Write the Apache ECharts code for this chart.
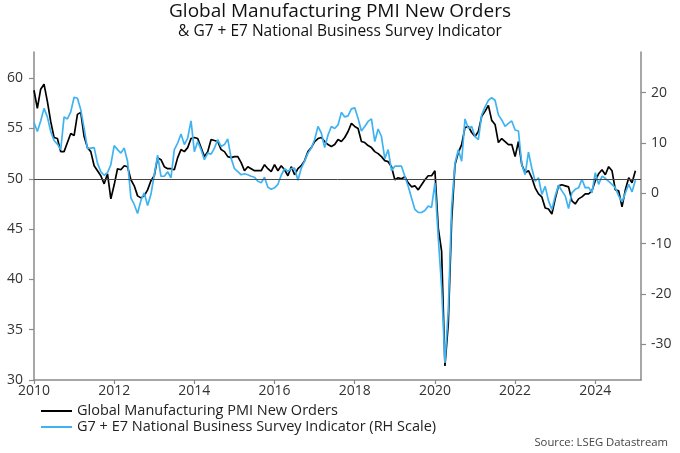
<!DOCTYPE html>
<html><head><meta charset="utf-8">
<script src="https://cdn.jsdelivr.net/npm/echarts@6/dist/echarts.min.js"></script>
<style>html,body{margin:0;padding:0;background:#fff}#c{width:680px;height:453px}</style>
</head><body><div id="c"></div>
<script>
const startYear = 2010;
const titleText = 'Global Manufacturing PMI New Orders';
const subtitleText = '& G7 + E7 National Business Survey Indicator';
const sourceText = 'Source: LSEG Datastream';
const seriesNames = ['Global Manufacturing PMI New Orders', 'G7 + E7 National Business Survey Indicator (RH Scale)'];
// Monthly, Jan 2010 - Jan 2025
const pmiNewOrders = [
58.8,57.0,58.9,59.4,57.7,55.7,54.1,54.0,52.7,52.7,53.6,54.5,
54.3,56.4,56.6,54.2,53.1,52.7,51.3,50.8,50.3,49.5,50.5,48.0,
49.4,51.0,50.9,51.3,51.2,49.9,49.3,48.3,48.1,48.3,48.9,49.8,
50.3,52.1,51.9,51.2,51.0,51.0,50.9,52.1,52.9,52.7,53.1,54.0,
54.1,54.0,53.1,52.2,52.7,53.9,53.8,53.7,52.9,52.7,52.2,52.1,
52.2,52.2,51.6,50.8,51.2,51.0,50.8,50.8,50.8,51.4,51.0,50.7,
51.4,50.8,51.3,50.9,50.3,51.2,50.4,51.0,51.3,51.8,52.7,53.1,
53.7,54.0,54.1,53.7,53.4,53.2,53.4,53.9,53.7,54.1,54.7,55.5,
55.2,55.0,53.7,53.6,53.3,53.1,52.7,52.5,52.2,51.8,51.7,51.2,
49.9,50.1,50.0,50.2,49.6,49.2,49.3,48.9,49.4,49.9,50.3,50.3,
50.8,45.1,42.8,31.4,35.6,45.8,51.4,52.6,53.4,55.1,55.2,54.6,
54.2,54.7,56.2,56.7,57.3,55.8,55.4,53.6,54.0,53.7,53.4,53.4,
52.2,53.7,51.4,50.6,50.8,50.1,49.1,48.5,48.2,47.1,47.0,46.5,
48.0,49.3,49.4,49.3,49.2,47.8,47.5,48.0,48.2,48.5,48.5,48.8,
49.8,50.5,50.9,50.4,51.2,50.8,48.9,48.8,47.2,48.9,50.1,49.6,
50.8
];
const g7e7Indicator = [
14.1,12.3,14.4,16.9,15.2,12.3,10.5,9.8,8.7,15.2,14.8,16.2,
19.1,18.9,16.6,12.9,8.9,9.0,9.1,6.0,4.3,3.6,4.1,5.7,
9.5,8.7,8.0,9.0,6.4,-0.9,-2.2,-4.0,-1.4,0.1,-2.4,-0.2,
3.7,7.6,3.4,3.4,4.3,3.1,8.7,10.0,11.8,9.7,11.0,14.4,
8.3,10.3,8.7,6.7,8.0,7.8,9.0,10.7,9.3,9.7,10.8,7.0,
4.9,4.3,3.7,3.9,3.7,3.4,3.2,2.4,2.1,3.2,1.2,0.8,
1.1,1.8,3.6,4.9,4.4,4.9,5.0,2.6,5.0,6.4,8.0,9.0,
10.7,13.3,12.0,9.1,11.6,13.3,12.9,13.6,16.1,15.2,15.4,16.8,
17.0,14.9,12.4,13.3,14.3,14.8,10.3,12.8,11.3,6.9,8.7,4.5,
5.4,5.4,5.4,3.4,1.4,-0.9,-3.2,-3.8,-3.8,-3.4,-2.5,-2.8,
2.1,-8.8,-18.6,-33.7,-23.2,-2.8,6.0,8.7,6.4,14.8,12.9,13.3,
11.3,10.7,15.6,17.2,18.5,19.0,18.5,15.6,14.6,13.3,13.9,14.4,
12.6,12.4,5.7,3.7,8.2,5.0,2.4,3.1,-0.2,1.4,-1.5,-3.2,
-0.5,1.6,0.5,-0.5,-3.0,0.1,0.8,1.1,2.8,1.1,1.2,0.1,
4.1,1.8,3.4,3.0,2.4,1.8,1.1,-0.5,-1.7,0.1,1.8,0.3,
2.6
];
const yearTicks = [2010,2012,2014,2016,2018,2020,2022,2024];
const leftTicks = [30,35,40,45,50,55,60];
const rightTicks = [-30,-20,-10,0,10,20];
const refLevel = 50;

const toXY = arr => arr.map((v, i) => [startYear + i / 12, v]);
const FONT = '"Open Sans", "Noto Sans", sans-serif';
const axisColor = '#8a8a8a';
const labelStyle = {fontFamily: FONT, fontSize: 14, color: '#333'};

const chart = echarts.init(document.getElementById('c'), null, {renderer: 'canvas'});
chart.setOption({
  animation: false,
  backgroundColor: '#fff',
  title: [
    {text: titleText, left: 'center', top: 2, padding: 0, textStyle: {fontFamily: FONT, fontSize: 19, fontWeight: 'normal', color: '#111'}},
    {text: subtitleText, left: 'center', top: 24, padding: 0, textStyle: {fontFamily: FONT, fontSize: 15.5, fontWeight: 'normal', color: '#111'}}
  ],
  grid: {left: 34, right: 39, top: 52, bottom: 73, containLabel: false},
  legend: {
    orient: 'vertical', left: 41, top: 403, padding: 0, itemWidth: 31, itemHeight: 2, itemGap: 0, icon: 'rect',
    textStyle: {fontFamily: FONT, fontSize: 14.5, color: '#222', lineHeight: 16},
    data: seriesNames
  },
  graphic: [{type: 'text', right: 12, top: 437, style: {text: sourceText, font: '11.3px ' + FONT, fill: '#444'}}],
  xAxis: {
    type: 'value', min: 2010, max: 2025.14,
    axisLine: {show: true, onZero: false, lineStyle: {color: axisColor, width: 1.5}},
    axisTick: {show: true, length: 4, customValues: yearTicks, lineStyle: {color: axisColor, width: 1.2}},
    axisLabel: Object.assign({customValues: yearTicks, margin: 4, formatter: v => String(Math.round(v))}, labelStyle),
    splitLine: {show: false}
  },
  yAxis: [
    {
      type: 'value', min: 30, max: 62.6, position: 'left',
      axisLine: {show: true, onZero: false, lineStyle: {color: axisColor, width: 1.5}},
      axisTick: {show: true, length: 5, customValues: leftTicks, lineStyle: {color: axisColor, width: 1.2}},
      axisLabel: Object.assign({customValues: leftTicks, margin: 11}, labelStyle),
      splitLine: {show: false}
    },
    {
      type: 'value', min: -37.1, max: 28.1, position: 'right',
      axisLine: {show: true, onZero: false, lineStyle: {color: axisColor, width: 1.5}},
      axisTick: {show: true, length: 5, customValues: rightTicks, lineStyle: {color: axisColor, width: 1.2}},
      axisLabel: Object.assign({customValues: rightTicks, margin: 10}, labelStyle),
      splitLine: {show: false}
    }
  ],
  series: [
    {
      name: seriesNames[0], type: 'line', yAxisIndex: 0, data: toXY(pmiNewOrders),
      showSymbol: false, symbol: 'none', color: '#000',
      lineStyle: {color: '#000', width: 1.7},
      markLine: {silent: true, symbol: 'none', label: {show: false},
        lineStyle: {color: '#444', width: 1, type: 'solid'}, data: [{yAxis: refLevel}]},
      z: 2
    },
    {
      name: seriesNames[1], type: 'line', yAxisIndex: 1, data: toXY(g7e7Indicator),
      showSymbol: false, symbol: 'none', color: '#3fb3f2',
      lineStyle: {color: '#3fb3f2', width: 1.7},
      z: 3
    }
  ]
});
</script></body></html>
